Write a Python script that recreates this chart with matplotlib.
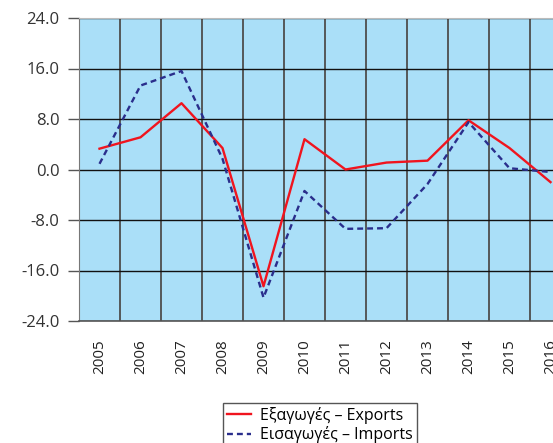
import matplotlib.pyplot as plt
import numpy as np

plt.rcParams['font.family'] = ['Open Sans', 'DejaVu Sans']

years = ['2005', '2006', '2007', '2008', '2009', '2010',
         '2011', '2012', '2013', '2014', '2015', '2016']
exports = [3.3, 5.1, 10.5, 3.4, -18.5, 4.8, 0.0, 1.1, 1.4, 7.8, 3.4, -2.0]
imports = [0.9, 13.3, 15.6, 1.7, -20.3, -3.4, -9.4, -9.3, -2.3, 7.5, 0.2, -0.4]
yticks = [-24, -16, -8, 0, 8, 16, 24]

W, H = 553, 443
fig = plt.figure(figsize=(W / 100, H / 100), dpi=100)
# plot area runs past the right edge (the source image is cut off)
ax = fig.add_axes([79 / W, 1 - 321 / H, (571 - 79) / W, (321 - 18) / H])
ax.set_facecolor('#AADFF8')

x = np.arange(len(years))
ax.plot(x, exports, color='#F0141E', lw=1.7, label='Εξαγωγές – Exports', zorder=3)
ax.plot(x, imports, color='#2A2E8C', lw=1.7, ls=(0, (2.5, 1.7)),
        label='Εισαγωγές – Imports', zorder=3)

ax.set_xlim(-0.5, len(years) - 0.5)
ax.set_ylim(-24, 24)
ax.set_yticks(yticks)
ax.set_yticklabels([f'{v:.1f}' for v in yticks], fontsize=12, color='#333333')
ax.set_xticks(x)
ax.set_xticklabels(years, rotation=90, fontsize=11, color='#222222')
ax.set_xticks(np.arange(-0.5, len(years)), minor=True)

ax.tick_params(axis='x', which='both', length=0, pad=13)
ax.tick_params(axis='y', length=8, width=1, color='#555555', pad=6)
ax.grid(axis='y', color='#111111', lw=1)
ax.grid(axis='x', which='minor', color='#4d4d4d', lw=1.3)
ax.set_axisbelow(True)

for s in ['top', 'right']:
    ax.spines[s].set_color('#bbbbbb')
ax.spines['left'].set_color('#777777')
ax.spines['bottom'].set_color('#555555')
ax.spines['bottom'].set_linewidth(1.2)

leg = fig.legend(loc='upper center', bbox_to_anchor=(320 / W, 1 - 395 / H),
                 fontsize=11.5, handlelength=1.5, handletextpad=0.6,
                 borderpad=0.25, labelspacing=0.15, fancybox=False,
                 framealpha=1, edgecolor='#555555')
leg.get_frame().set_linewidth(1.0)

fig.savefig('out.png', dpi=100)
